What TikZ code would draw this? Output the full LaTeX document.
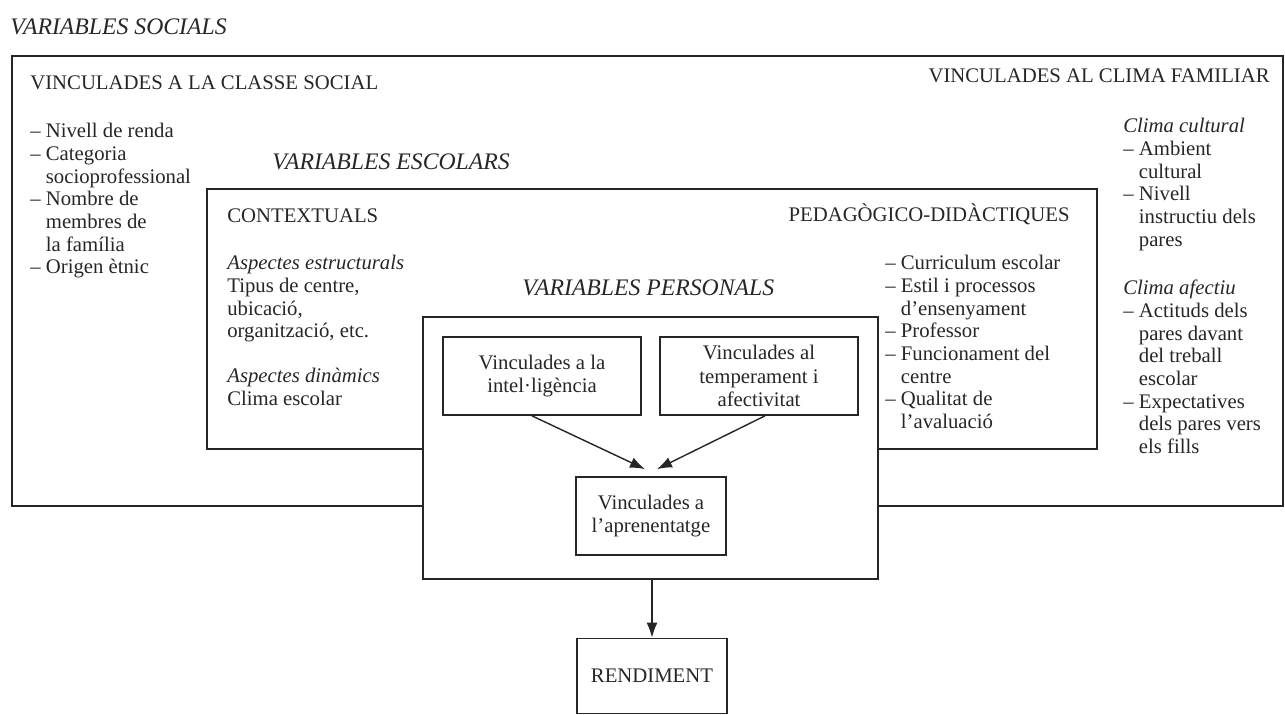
\documentclass[tikz,border=0pt]{standalone}
\usepackage{fontspec}
\setmainfont{Liberation Serif}
\usetikzlibrary{arrows.meta}
\definecolor{ink}{gray}{0.15}
\newcommand{\ind}{\hphantom{–\ }}

\begin{document}
\begin{tikzpicture}[x=0.02cm, y=-0.02cm,
    txt/.style={font=\fontsize{11.8}{12.9}\selectfont, inner sep=0pt, align=left, text=ink},
    ttl/.style={font=\fontsize{13.5}{15}\selectfont\itshape, inner sep=0pt, anchor=west, text=ink},
    group/.style={draw=ink, line width=1pt, inner sep=0pt},
    varbox/.style={draw=ink, fill=white, line width=1pt, inner sep=0pt, align=center,
        font=\fontsize{11.8}{13.2}\selectfont, text=ink},
    arr/.style={draw=ink, line width=0.8pt, -{Latex[length=3mm,width=2.2mm]}}]
    \useasboundingbox (0,0) rectangle (1285,715);

    \node[ttl] (socTitle) at (10,27) {VARIABLES SOCIALS};
    \node[group, minimum width=25.42cm, minimum height=9cm] (soc) at (647.5,281) {};
    \node[txt, anchor=west] (classe) at (30,83) {VINCULADES A LA CLASSE SOCIAL};
    \node[txt, anchor=east] (familiar) at (1270,76) {VINCULADES AL CLIMA FAMILIAR};
    \node[txt, anchor=north west] (classeList) at (30,123)
        {– Nivell de renda\\– Categoria\\\ind socioprofessional\\– Nombre de\\\ind membres de\\\ind la família\\– Origen ètnic};
    \node[txt, anchor=north west] (cultural) at (1123,118)
        {\textit{Clima cultural}\\– Ambient\\\ind cultural\\– Nivell\\\ind instructiu dels\\\ind pares};
    \node[txt, anchor=north west] (afectiu) at (1123,280)
        {\textit{Clima afectiu}\\– Actituds dels\\\ind pares davant\\\ind del treball\\\ind escolar\\– Expectatives\\\ind dels pares vers\\\ind els fills};

    \node[ttl] (escTitle) at (272,162) {VARIABLES ESCOLARS};
    \node[group, minimum width=17.8cm, minimum height=5.2cm] (esc) at (652,319) {};
    \node[txt, anchor=west] (context) at (227,216) {CONTEXTUALS};
    \node[txt, anchor=east] (pedag) at (1070,214) {PEDAGÒGICO-DIDÀCTIQUES};
    \node[txt, anchor=north west] (estruct) at (227,255)
        {\textit{Aspectes estructurals}\\Tipus de centre,\\ubicació,\\organització, etc.};
    \node[txt, anchor=north west] (dinam) at (227,368)
        {\textit{Aspectes dinàmics}\\Clima escolar};
    \node[txt, anchor=north west] (pedList) at (885,255)
        {– Curriculum escolar\\– Estil i processos\\\ind d’ensenyament\\– Professor\\– Funcionament del\\\ind centre\\– Qualitat de\\\ind l’avaluació};

    \node[ttl] (persTitle) at (522,288) {VARIABLES PERSONALS};
    \node[varbox, minimum width=9.1cm, minimum height=5.24cm] (pers) at (650.5,448) {};
    \node[varbox, minimum width=3.96cm, minimum height=1.56cm] (intel) at (542,376)
        {Vinculades a la\\intel·ligència};
    \node[varbox, minimum width=3.96cm, minimum height=1.56cm] (temper) at (759,376)
        {Vinculades al\\temperament i\\afectivitat};
    \node[varbox, minimum width=3cm, minimum height=1.56cm] (aprenen) at (651,516)
        {Vinculades a\\l’aprenentatge};
    \node[varbox, minimum width=3cm, minimum height=1.5cm] (rend) at (652,676) {RENDIMENT};

    \draw[arr] ([xshift=-0.2cm]intel.south) -- ([xshift=-0.12cm,yshift=0.14cm]aprenen.north);
    \draw[arr] ([xshift=0.12cm]temper.south) -- ([xshift=0.12cm,yshift=0.14cm]aprenen.north);
    \draw[arr] (pers.south -| rend.north) -- (rend.north);
\end{tikzpicture}
\end{document}
